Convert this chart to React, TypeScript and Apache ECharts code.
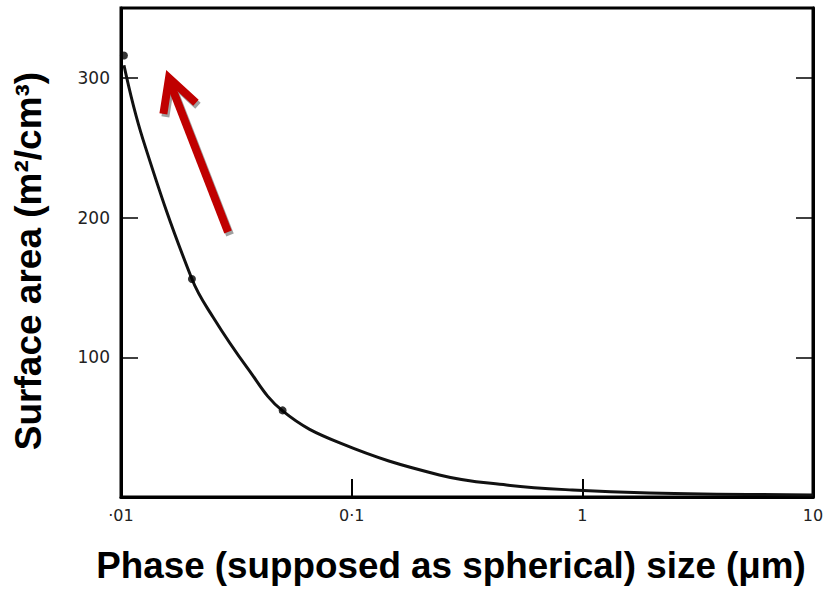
import React, { useEffect, useRef } from "react";
import * as echarts from "echarts";

// Curve: phase size (µm) vs surface area (m²/cm³)
const curveSize = [0.0103, 0.01245, 0.0203, 0.025, 0.0351, 0.0502, 0.0888, 0.24, 0.469, 0.906, 1.95, 10];
const curveArea = [309, 256, 156, 129, 93, 61.6, 38.7, 15.8, 8.6, 5.0, 2.9, 1.4];

// Marked measurement points
const pointSize = [0.0103, 0.0203, 0.0502];
const pointArea = [316, 156, 62];

// Tick labels
const xTickValues = [0.01, 0.1, 1, 10];
const xTickLabels = ["·01", "0·1", "1", "10"];
const yTickValues = [100, 200, 300];
const yTickLabels = ["100", "200", "300"];

const xTitle = "Phase (supposed as spherical) size (\u03bcm)";
const yTitle = "Surface area (m\u00b2/cm\u00b3)";

export default function App() {
  const ref = useRef<HTMLDivElement>(null);

  useEffect(() => {
    if (!ref.current) return;
    const chart = echarts.init(ref.current, undefined, { renderer: "svg" });

    const xFmt = (v: number) => {
      for (let i = 0; i < xTickValues.length; i++) {
        if (Math.abs(Math.log10(v) - Math.log10(xTickValues[i])) < 1e-6) return xTickLabels[i];
      }
      return "";
    };
    const yFmt = (v: number) => {
      const i = yTickValues.indexOf(v);
      return i >= 0 ? yTickLabels[i] : "";
    };

    const red = "#c00000";
    const shadow = "#a0a0a0";
    const arrowShaft = { x1: 228, y1: 232, x2: 169, y2: 80 };
    const arrowHead = [[164, 110], [169, 78], [193, 100]];
    const sh = (pts: number[][]) => pts.map((p) => [p[0] + 2, p[1] + 3]);

    chart.setOption({
      animation: false,
      backgroundColor: "#ffffff",
      grid: {
        left: 121,
        right: 14,
        top: 8,
        bottom: 94,
        show: true,
        borderColor: "#000",
        borderWidth: 3,
        containLabel: false,
      },
      xAxis: {
        type: "log",
        logBase: 10,
        min: 0.01,
        max: 10,
        axisLine: { show: true, lineStyle: { color: "#000", width: 3 } },
        axisTick: { show: true, inside: true, length: 18, lineStyle: { color: "#000", width: 2 } },
        axisLabel: {
          formatter: xFmt,
          margin: 10,
          fontFamily: "DejaVu Sans",
          fontSize: 16,
          color: "#222",
          showMaxLabel: true,
          showMinLabel: true,
        },
        splitLine: { show: false },
        minorTick: { show: false },
      },
      yAxis: [
        {
          type: "value",
          min: 0,
          max: 350,
          interval: 100,
          axisLine: { show: true, lineStyle: { color: "#000", width: 3 } },
          axisTick: { show: true, inside: true, length: 17, lineStyle: { color: "#000", width: 1.5 } },
          axisLabel: {
            formatter: yFmt,
            margin: 11,
            fontFamily: "DejaVu Sans",
            fontSize: 17,
            color: "#222",
          },
          splitLine: { show: false },
        },
        {
          type: "value",
          position: "right",
          min: 0,
          max: 350,
          interval: 100,
          axisLine: { show: true, lineStyle: { color: "#000", width: 3 } },
          axisTick: { show: true, inside: true, length: 17, lineStyle: { color: "#000", width: 1.5 } },
          axisLabel: { show: false },
          splitLine: { show: false },
        },
      ],
      series: [
        {
          type: "line",
          data: curveSize.map((x, i) => [x, curveArea[i]]),
          smooth: 0.4,
          showSymbol: false,
          symbol: "none",
          lineStyle: { color: "#111", width: 3 },
          z: 3,
        },
        {
          type: "scatter",
          data: pointSize.map((x, i) => [x, pointArea[i]]),
          symbol: "circle",
          symbolSize: 8,
          itemStyle: { color: "#000" },
          z: 4,
        },
      ],
      graphic: [
        {
          type: "line",
          shape: { x1: arrowShaft.x1 + 2, y1: arrowShaft.y1 + 3, x2: arrowShaft.x2 + 2, y2: arrowShaft.y2 + 3 },
          style: { stroke: shadow, lineWidth: 8, lineCap: "butt" },
          z: 10,
        },
        {
          type: "polyline",
          shape: { points: sh(arrowHead) },
          style: { stroke: shadow, lineWidth: 8, lineCap: "square", lineJoin: "miter", fill: "none" },
          z: 10,
        },
        {
          type: "line",
          shape: arrowShaft,
          style: { stroke: red, lineWidth: 8, lineCap: "butt" },
          z: 11,
        },
        {
          type: "polyline",
          shape: { points: arrowHead },
          style: { stroke: red, lineWidth: 8, lineCap: "square", lineJoin: "miter", fill: "none" },
          z: 11,
        },
        {
          type: "text",
          x: 28,
          y: 261,
          rotation: Math.PI / 2,
          style: {
            text: yTitle,
            fontFamily: "Liberation Sans, Arial, sans-serif",
            fontWeight: "bold",
            fontSize: 37,
            fill: "#000",
            textAlign: "center",
            textVerticalAlign: "middle",
          },
          z: 12,
        },
        {
          type: "text",
          x: 451,
          y: 565,
          style: {
            text: xTitle,
            fontFamily: "Liberation Sans, Arial, sans-serif",
            fontWeight: "bold",
            fontSize: 36.8,
            fill: "#000",
            textAlign: "center",
            textVerticalAlign: "middle",
          },
          z: 12,
        },
      ],
    });

    return () => chart.dispose();
  }, []);

  return <div ref={ref} style={{ position: "absolute", left: 0, top: 0, width: 827, height: 591 }} />;
}
